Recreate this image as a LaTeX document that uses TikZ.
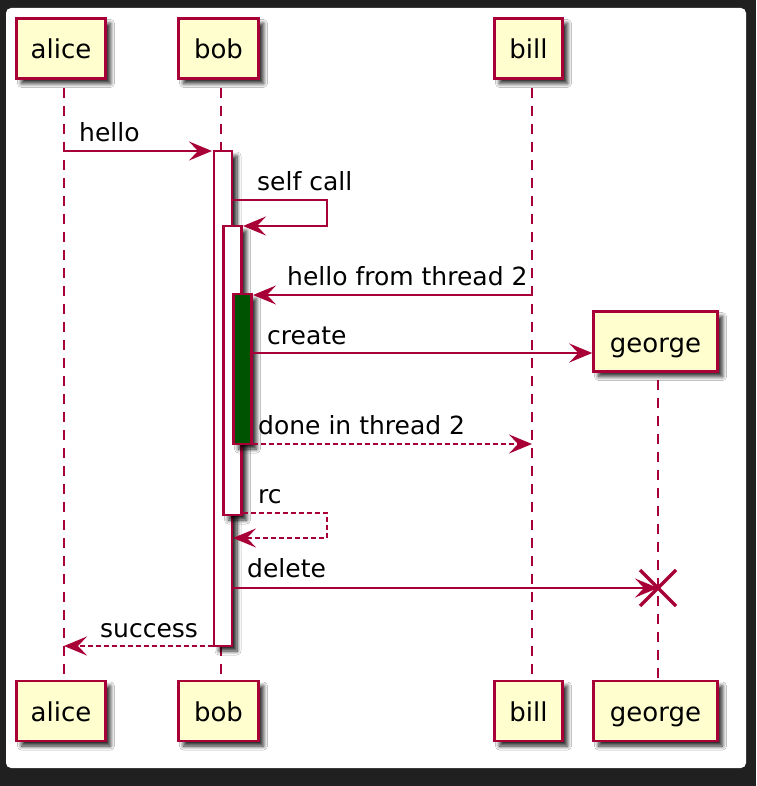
\documentclass[tikz,border=0pt]{standalone}
\usepackage{fontspec}
\setmainfont{DejaVu Sans}
\usetikzlibrary{arrows.meta,shadows.blur,calc}
\definecolor{pline}{HTML}{A80036}
\definecolor{pfill}{HTML}{FEFECE}
\definecolor{frame}{HTML}{202020}
\definecolor{actgreen}{HTML}{005300}
\begin{document}
\begin{tikzpicture}[x=1pt,y=-1pt,
  shad/.style={blur shadow={shadow xshift=5pt,shadow yshift=-5pt,shadow blur radius=4pt,shadow blur steps=8,shadow opacity=85}},
  part/.style={draw=pline,fill=pfill,line width=2.5pt,inner sep=0pt,text height=26pt,text depth=5pt,font=\fontsize{26}{30}\selectfont,shad},
  lifeline/.style={draw=pline,line width=2.5pt,dash pattern=on 10pt off 8pt,dash phase=10pt},
  actbar/.style={draw=pline,fill=white,line width=2.5pt,inner sep=0pt,minimum width=18pt,shad},
  msg/.style={draw=pline,line width=2pt,-{Stealth[length=23pt,width=19pt,inset=9pt]}},
  rmsg/.style={msg,dash pattern=on 5pt off 3pt},
  lbl/.style={anchor=base west,inner sep=0pt,font=\fontsize{25}{30}\selectfont},
  killx/.style={draw=pline,line width=3.5pt},
]
\useasboundingbox (0,0) rectangle (756,786);
\fill[frame] (0,0) rectangle (756,786);
\fill[white,rounded corners=5pt] (6,8) rectangle (746,768);

% lifelines
\draw[lifeline] (64,80) -- (64,680);
\draw[lifeline] (221,80) -- (221,680);
\draw[lifeline] (532,80) -- (532,680);
\draw[lifeline] (658,372) -- (658,680);

% participants
\node[part,minimum width=89pt,minimum height=60pt] (aliceT) at (61,48.5) {alice};
\node[part,minimum width=80pt,minimum height=60pt] (bobT) at (218.5,48.5) {bob};
\node[part,minimum width=68pt,minimum height=60pt] (billT) at (528.5,48.5) {bill};
\node[part,minimum width=124pt,minimum height=60pt] (georgeT) at (655.5,341.5) {george};
\node[part,minimum width=89pt,minimum height=60pt] (aliceB) at (61,711) {alice};
\node[part,minimum width=80pt,minimum height=60pt] (bobB) at (218.5,711) {bob};
\node[part,minimum width=68pt,minimum height=60pt] (billB) at (528.5,711) {bill};
\node[part,minimum width=124pt,minimum height=60pt] (georgeB) at (655.5,711) {george};

% activations
\node[actbar,minimum height=495pt] (act1) at (223,398.5) {};
\node[actbar,minimum height=289pt] (act2) at (232.5,370.5) {};
\node[actbar,fill=actgreen,minimum height=150pt] (act3) at (242.5,369) {};

% messages
\draw[msg] (64,151) -- (212,151);
\node[lbl] (t1) at (79,142) {hello};

\draw[msg] (233,200) -- (327,200) -- (327,226) -- (243,226);
\node[lbl] (t2) at (257,191) {self call};

\draw[msg] (532,295) -- (253,295);
\node[lbl] (t3) at (287,285) {hello from thread 2};

\draw[msg] (253,353) -- (georgeT.west |- 0,353);
\node[lbl] (t4) at (267,344) {create};

\draw[rmsg] (253,444) -- (532,444);
\node[lbl] (t5) at (258,434) {done in thread 2};

\draw[rmsg] (243,513) -- (327,513) -- (327,538) -- (233,538);
\node[lbl] (t6) at (258,503) {rc};

\coordinate (kill) at (658,588);
\draw[msg] (233,588) -- (kill);
\draw[killx] ($(kill)+(-18,-18)$) -- ($(kill)+(18,18)$);
\draw[killx] ($(kill)+(18,-18)$) -- ($(kill)+(-18,18)$);
\node[lbl] (t7) at (247,577) {delete};

\draw[rmsg] (213,646) -- (64,646);
\node[lbl] (t8) at (100,637) {success};
\end{tikzpicture}
\end{document}
